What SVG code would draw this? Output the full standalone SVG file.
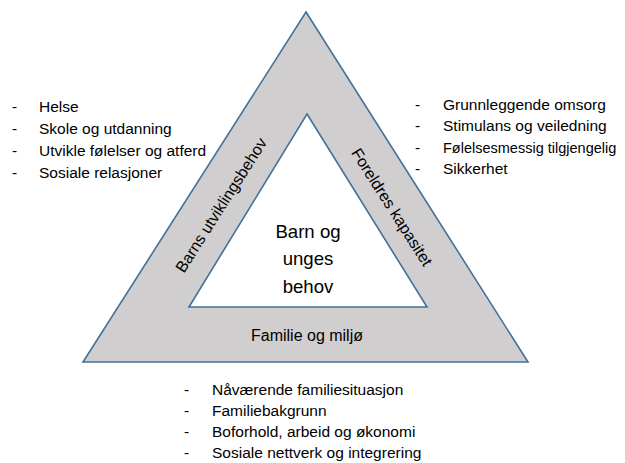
<svg xmlns="http://www.w3.org/2000/svg" width="625" height="463" viewBox="0 0 625 463">
<style>
.t{font-family:"Liberation Sans",Arial,sans-serif;font-size:15.5px;fill:#000}
.n{font-size:14.5px}
.c{font-family:"Liberation Sans",Arial,sans-serif;font-size:18.6px;fill:#000;text-anchor:middle}
.s{font-family:"Liberation Sans",Arial,sans-serif;font-size:16px;fill:#000;text-anchor:middle}
.tri{stroke:#41719c;stroke-width:1.6;stroke-linejoin:miter}
</style>
<rect width="625" height="463" fill="#fff"/>
<g id="outer">
<polygon class="tri" points="306,12 528,362 83,362" fill="#d0cece"/>
</g>
<g id="inner">
<polygon class="tri" points="307,114 427,307 189,307" fill="#fff"/>
<text class="c" x="308" y="238">Barn og</text>
<text class="c" x="308" y="265">unges</text>
<text class="c" x="308" y="293">behov</text>
</g>
<g id="side-left">
<text class="s" transform="translate(221,205) rotate(-57.5)" dy="0.35em">Barns utviklingsbehov</text>
</g>
<g id="side-right">
<text class="s" transform="translate(392,207) rotate(57.5)" dy="0.35em">Foreldres kapasitet</text>
</g>
<g id="side-bottom">
<text class="s" x="307" y="341">Familie og miljø</text>
</g>
<g id="list-left">
<text class="t" x="12" y="112">-</text><text class="t" x="39" y="112">Helse</text>
<text class="t" x="12" y="134">-</text><text class="t" x="39" y="134">Skole og utdanning</text>
<text class="t" x="12" y="156">-</text><text class="t" x="39" y="156">Utvikle følelser og atferd</text>
<text class="t" x="12" y="178">-</text><text class="t" x="39" y="178">Sosiale relasjoner</text>
</g>
<g id="list-right">
<text class="t" x="415" y="110">-</text><text class="t" x="443" y="110">Grunnleggende omsorg</text>
<text class="t" x="415" y="131">-</text><text class="t" x="443" y="131">Stimulans og veiledning</text>
<text class="t" x="415" y="153">-</text><text class="t n" x="443" y="153">Følelsesmessig tilgjengelig</text>
<text class="t" x="415" y="174">-</text><text class="t" x="443" y="174">Sikkerhet</text>
</g>
<g id="list-bottom">
<text class="t" x="184" y="395">-</text><text class="t" x="212" y="395">Nåværende familiesituasjon</text>
<text class="t" x="184" y="416">-</text><text class="t" x="212" y="416">Familiebakgrunn</text>
<text class="t" x="184" y="437">-</text><text class="t" x="212" y="437">Boforhold, arbeid og økonomi</text>
<text class="t" x="184" y="458">-</text><text class="t" x="212" y="458">Sosiale nettverk og integrering</text>
</g>
</svg>
